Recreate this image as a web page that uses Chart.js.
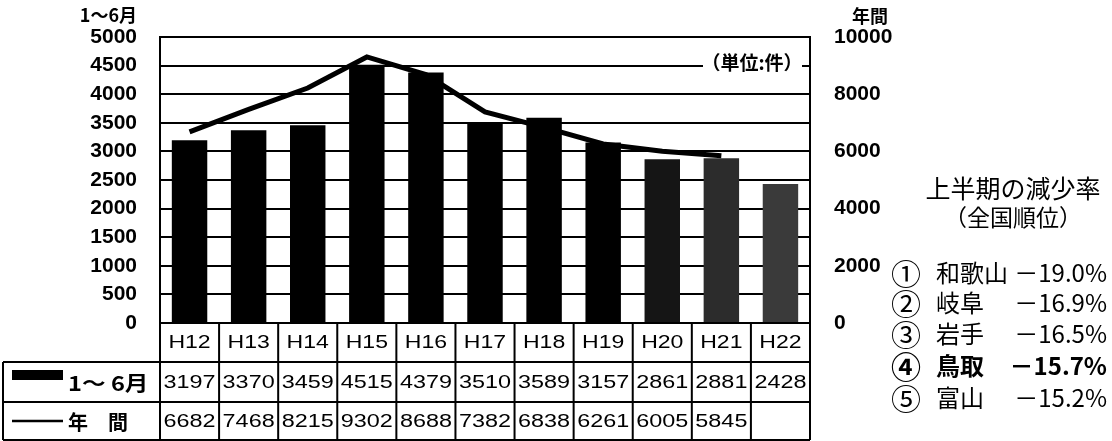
<!DOCTYPE html>
<html lang="ja">
<head>
<meta charset="utf-8">
<script src="https://cdn.jsdelivr.net/npm/chart.js@4.4.1/dist/chart.umd.min.js"></script>
<style>
html, body { margin: 0; padding: 0; background: #fff; }
#wrap { position: relative; width: 1112px; height: 441px; overflow: hidden; }
#chart { position: absolute; left: 0; top: 0; }
#note { position: absolute; left: 880px; top: 0; width: 232px; height: 441px;
        font-family: "Noto Sans CJK JP", sans-serif; color: #000; }
#note .title { position: absolute; left: 0; width: 266px; text-align: center; font-size: 25px; line-height: 1; }
#note .row { position: absolute; left: 13px; width: 214px; height: 26px; font-size: 24px; line-height: 26px; }
#note .row span { position: absolute; top: 0; white-space: nowrap; }
#note .num { left: -2px; font-size: 30px; }
#note .name { left: 43px; }
#note .rate { right: 0; }
#note .bold { font-weight: bold; }
</style>
</head>
<body>
<div id="wrap">
  <canvas id="chart" width="1112" height="441"></canvas>
  <div id="note"></div>
</div>
<script>
// chart data
const categories = ['H12', 'H13', 'H14', 'H15', 'H16', 'H17', 'H18', 'H19', 'H20', 'H21', 'H22'];
const halfYear = [3197, 3370, 3459, 4515, 4379, 3510, 3589, 3157, 2861, 2881, 2428];
const annual = [6682, 7468, 8215, 9302, 8688, 7382, 6838, 6261, 6005, 5845, null];
const barColors = ['#000', '#000', '#000', '#000', '#000', '#000', '#000', '#000', '#151515', '#2c2c2c', '#3a3a3a'];
const halfLabel = '1～ 6月';
const annualLabel = '年　間';

// ranking box on the right
const rankTitle = '上半期の減少率';
const rankSub = '（全国順位）';
const rankMarks = ['①', '②', '③', '④', '⑤'];
const rankPrefs = ['和歌山', '岐阜', '岩手', '鳥取', '富山'];
const rankRates = ['－19.0%', '－16.9%', '－16.5%', '－15.7%', '－15.2%'];

function stretchText(ctx, text, cx, cy, sx) {
    ctx.save();
    ctx.translate(cx, cy);
    ctx.scale(sx, 1);
    ctx.fillText(text, 0, 0);
    ctx.restore();
}

const tablePlugin = {
    id: 'dataTable',
    afterDraw(chart) {
        const { ctx, chartArea } = chart;
        const x = chart.scales.x;
        const half = (chartArea.right - chartArea.left) / categories.length / 2;
        const r0 = chartArea.bottom, r1 = r0 + 39, r2 = r0 + 79, r3 = r0 + 117;
        const tableLeft = 3;

        ctx.save();
        ctx.strokeStyle = '#000';
        ctx.lineWidth = 2;

        // plot frame
        ctx.strokeRect(chartArea.left, chartArea.top, chartArea.right - chartArea.left, chartArea.bottom - chartArea.top);

        // table lines
        ctx.beginPath();
        [r1, r2, r3].forEach(y => { ctx.moveTo(tableLeft, y); ctx.lineTo(chartArea.right, y); });
        ctx.moveTo(tableLeft, r1); ctx.lineTo(tableLeft, r3);
        ctx.moveTo(chartArea.left, r0); ctx.lineTo(chartArea.left, r3);
        categories.forEach((c, i) => {
            const xr = x.getPixelForValue(i) + half;
            ctx.moveTo(xr, r0); ctx.lineTo(xr, r3);
        });
        ctx.stroke();

        // cell text
        ctx.fillStyle = '#000';
        ctx.textAlign = 'center';
        ctx.textBaseline = 'middle';
        ctx.font = '18px "Liberation Sans", Arial, sans-serif';
        categories.forEach((c, i) => {
            const cx = x.getPixelForValue(i);
            stretchText(ctx, c, cx, (r0 + r1) / 2 + 1, 1.28);
            stretchText(ctx, String(halfYear[i]), cx, (r1 + r2) / 2 + 1, 1.3);
            if (annual[i] != null) stretchText(ctx, String(annual[i]), cx, (r2 + r3) / 2 + 1, 1.3);
        });

        // row headers with legend marks
        ctx.fillRect(12, r1 + 8, 51, 10);
        ctx.lineWidth = 2.5;
        ctx.beginPath();
        ctx.moveTo(12, (r2 + r3) / 2);
        ctx.lineTo(63, (r2 + r3) / 2);
        ctx.stroke();
        ctx.textAlign = 'left';
        ctx.font = 'bold 20px "Noto Sans CJK JP", sans-serif';
        stretchText(ctx, halfLabel, 68, (r1 + r2) / 2 + 1, 1.18);
        ctx.fillText(annualLabel, 68, (r2 + r3) / 2 + 1);

        // axis titles
        ctx.font = 'bold 18px "Noto Sans CJK JP", sans-serif';
        ctx.textAlign = 'right';
        ctx.fillText('1～6月', 137, 15);
        ctx.textAlign = 'left';
        ctx.fillText('年間', 852, 16);

        // unit label sitting on the 4500 grid line
        const yUnit = chart.scales.y.getPixelForValue(4500);
        ctx.fillStyle = '#fff';
        ctx.fillRect(703, yUnit - 12, 99, 22);
        ctx.fillStyle = '#000';
        ctx.font = 'bold 19px "Noto Sans CJK JP", sans-serif';
        ctx.textAlign = 'center';
        ctx.fillText('（単位:件）', 752, yUnit - 3);
        ctx.restore();
    }
};

const tickFont = { family: '"Liberation Sans", Arial, sans-serif', size: 21, weight: 'bold' };

new Chart(document.getElementById('chart'), {
    data: {
        labels: categories,
        datasets: [{
            type: 'line',
            label: annualLabel,
            data: annual,
            yAxisID: 'y2',
            borderColor: '#000',
            borderWidth: 5,
            pointRadius: 0,
            tension: 0,
            order: 0
        }, {
            type: 'bar',
            label: halfLabel,
            data: halfYear,
            yAxisID: 'y',
            backgroundColor: barColors,
            barPercentage: 0.6,
            categoryPercentage: 1,
            order: 1
        }]
    },
    plugins: [tablePlugin],
    options: {
        responsive: false,
        devicePixelRatio: 1,
        animation: false,
        layout: { padding: { top: 37, bottom: 118, left: 0, right: 0 } },
        plugins: {
            legend: { display: false },
            tooltip: { enabled: false }
        },
        scales: {
            x: { display: false },
            y: {
                position: 'left',
                min: 0,
                max: 5000,
                afterFit: s => { s.width = 160; },
                ticks: {
                    stepSize: 500,
                    padding: 23,
                    color: '#000',
                    font: tickFont,
                    callback: v => String(v)
                },
                grid: { color: '#000', lineWidth: 2, drawTicks: false },
                border: { display: true, color: '#000', width: 2 }
            },
            y2: {
                position: 'right',
                min: 0,
                max: 10000,
                afterFit: s => { s.width = 1112 - 810; },
                ticks: {
                    stepSize: 2000,
                    padding: 24,
                    color: '#000',
                    font: tickFont,
                    callback: v => String(v)
                },
                grid: { display: false, drawTicks: false },
                border: { display: true, color: '#000', width: 2 }
            }
        }
    }
});

// ranking text as plain html
const note = document.getElementById('note');
const t1 = document.createElement('div');
t1.className = 'title';
t1.style.top = '175px';
t1.textContent = rankTitle;
note.appendChild(t1);
const t2 = document.createElement('div');
t2.className = 'title';
t2.style.top = '205px';
t2.style.fontSize = '23px';
t2.textContent = rankSub;
note.appendChild(t2);
const rowTops = [259, 289, 320, 352, 384];
rankPrefs.forEach((p, i) => {
    const row = document.createElement('div');
    row.className = 'row' + (i === 3 ? ' bold' : '');
    row.style.top = rowTops[i] + 'px';
    row.innerHTML = '<span class="num"></span><span class="name"></span><span class="rate"></span>';
    row.children[0].textContent = rankMarks[i];
    row.children[1].textContent = p;
    row.children[2].textContent = rankRates[i];
    note.appendChild(row);
});
</script>
</body>
</html>
